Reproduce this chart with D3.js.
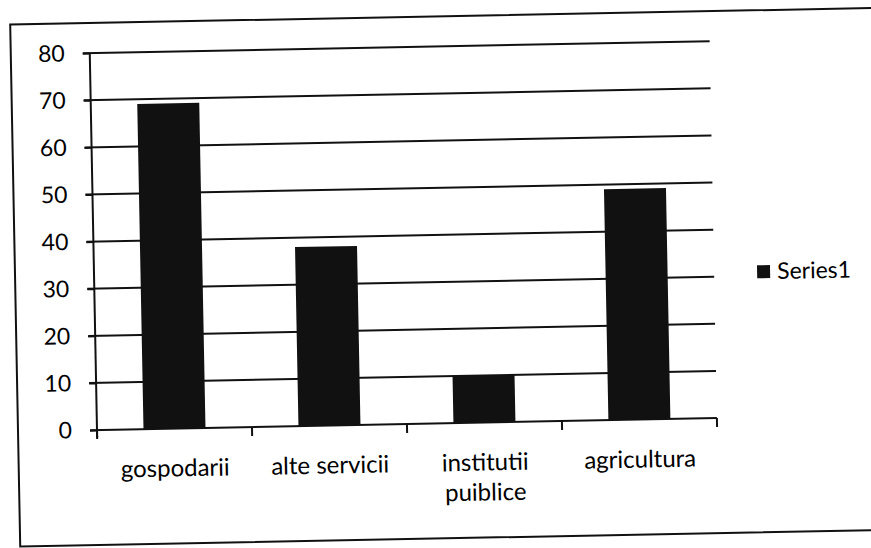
<!DOCTYPE html>
<html>
<head>
<meta charset="utf-8">
<script src="https://cdn.jsdelivr.net/npm/d3@7"></script>
<style>
  body { margin: 0; background: #fff; }
  text { font-family: Lato, "Open Sans", sans-serif; fill: #000; }
</style>
</head>
<body>
<div id="chart"></div>
<script>
// data
var categories = ["gospodarii", "alte servicii", "institutii puiblice", "agricultura"];
var labelLines = [["gospodarii"], ["alte servicii"], ["institutii", "puiblice"], ["agricultura"]];
var values = [69, 38, 10, 49];
var yTicks = [0, 10, 20, 30, 40, 50, 60, 70, 80];
var seriesName = "Series1";

var svgWidth = 871;
var svgHeight = 548;

var width = 620;
var height = 377;

var svg = d3.select("#chart")
  .append("svg")
  .attr("width", svgWidth)
  .attr("height", svgHeight);

// the scan is slightly tilted, so the whole chart is turned a little
var chartGroup = svg.append("g")
  .attr("transform", "translate(97, 430) rotate(-1.1) translate(0, " + (-height) + ")");

// outer frame
chartGroup.append("rect")
  .attr("x", -79)
  .attr("y", height - 407)
  .attr("width", 930)
  .attr("height", 522)
  .attr("fill", "none")
  .attr("stroke", "#111")
  .attr("stroke-width", 2);

var xScale = d3.scaleBand()
  .domain(categories)
  .range([0, width])
  .paddingInner(0.6)
  .paddingOuter(0.3);

var yScale = d3.scaleLinear()
  .domain([0, 80])
  .range([height, 0]);

// gridlines
chartGroup.append("g")
  .selectAll("line")
  .data(yTicks)
  .enter()
  .append("line")
  .attr("x1", -7)
  .attr("x2", width)
  .attr("y1", d => yScale(d))
  .attr("y2", d => yScale(d))
  .attr("stroke", "#111")
  .attr("stroke-width", 2);

// y axis
var leftAxis = d3.axisLeft(yScale)
  .tickValues(yTicks)
  .tickSize(7)
  .tickPadding(18);

var yAxis = chartGroup.append("g").call(leftAxis);
yAxis.select(".domain")
  .attr("d", "M0," + (height + 8) + "V0")
  .attr("stroke", "#111")
  .attr("stroke-width", 2);
yAxis.selectAll(".tick line").attr("stroke", "#111").attr("stroke-width", 2);
yAxis.selectAll(".tick text")
  .style("font-size", "23px")
  .style("font-family", "Lato, sans-serif")
  .attr("fill", "#000");

// bars
chartGroup.selectAll(".bar")
  .data(values)
  .enter()
  .append("rect")
  .attr("class", "bar")
  .attr("x", (d, i) => xScale(categories[i]))
  .attr("y", d => yScale(d))
  .attr("width", xScale.bandwidth())
  .attr("height", d => height - yScale(d))
  .attr("fill", "#111");

// x axis ticks at the category boundaries
var step = xScale.step();
var edges = categories.map(c => xScale(c) - step * xScale.paddingInner() / 2);
edges.push(width);

chartGroup.append("g")
  .selectAll("line")
  .data(edges)
  .enter()
  .append("line")
  .attr("x1", d => d)
  .attr("x2", d => d)
  .attr("y1", height)
  .attr("y2", height + 9)
  .attr("stroke", "#111")
  .attr("stroke-width", 2);

// category labels
var catLabels = chartGroup.append("g")
  .selectAll("text")
  .data(labelLines)
  .enter()
  .append("text")
  .attr("x", (d, i) => xScale(categories[i]) + xScale.bandwidth() / 2)
  .attr("y", height + 48)
  .attr("text-anchor", "middle")
  .style("font-size", "24px");

catLabels.selectAll("tspan")
  .data(d => d)
  .enter()
  .append("tspan")
  .attr("x", function() { return d3.select(this.parentNode).attr("x"); })
  .attr("dy", (d, i) => i === 0 ? 0 : 30)
  .text(d => d);

// legend
var legend = chartGroup.append("g")
  .attr("transform", "translate(663, " + (height - 152) + ")");

legend.append("rect")
  .attr("width", 13)
  .attr("height", 13)
  .attr("fill", "#111");

legend.append("text")
  .attr("x", 20)
  .attr("y", 14)
  .style("font-size", "23px")
  .text(seriesName);
</script>
</body>
</html>
